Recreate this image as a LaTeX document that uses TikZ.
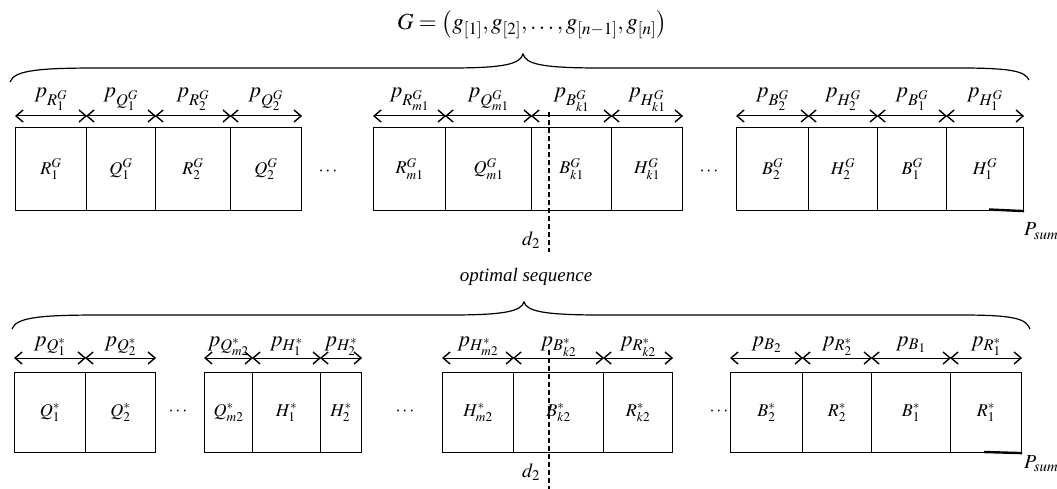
\documentclass[tikz,border=0pt]{standalone}
\usepackage{mathptmx}
\usepackage{fontspec}
\setmainfont{Liberation Serif}
\usetikzlibrary{arrows.meta}
\begin{document}
\begin{tikzpicture}[x=1pt,y=-1pt,
  box/.style={draw, line width=1.1pt, rectangle, inner sep=0pt, anchor=north west, font=\fontsize{18}{20}\selectfont},
  barb/.tip={Straight Barb[length=7pt,width=12pt,line width=1.4pt]},
  dim/.style={barb-barb, line width=1pt},
  plab/.style={anchor=base, font=\fontsize{22}{24}\selectfont, inner sep=0pt},
  brace/.style={line width=1.2pt},
  cut/.style={dashed, dash pattern=on 5pt off 3pt, line width=1.6pt},
  dots/.style={font=\fontsize{18}{20}\selectfont, inner sep=0pt},
  lab/.style={font=\fontsize{20}{22}\selectfont, inner sep=0pt, anchor=base},
  thick seg/.style={line width=2.4pt}]
\useasboundingbox (0,0) rectangle (1057,489);

% ---------- top sequence ----------
\node[lab, font=\fontsize{23}{25}\selectfont] (gtitle) at (532,30) {$G=\left(g_{[1]},g_{[2]},\ldots,g_{[n-1]},g_{[n]}\right)$};
\draw[brace] (10,82) .. controls (14,70) and (40,68) .. (100,68) -- (450,68)
  .. controls (505,68) and (520,64) .. (523,54)
  .. controls (526,64) and (541,68) .. (600,68) -- (960,68)
  .. controls (1015,68) and (1025,72) .. (1029,80);

\foreach \n/\a/\b/\l/\p in {
  tr1/15/86/{R_1^G}/{R_1^G},
  tq1/86/155/{Q_1^G}/{Q_1^G},
  tr2/155/230/{R_2^G}/{R_2^G},
  tq2/230/301/{Q_2^G}/{Q_2^G},
  trm/373/445/{R_{m1}^G}/{R_{m1}^G},
  tqm/445/531/{Q_{m1}^G}/{Q_{m1}^G},
  tbk/531/611/{B_{k1}^G}/{B_{k1}^G},
  thk/611/682/{H_{k1}^G}/{H_{k1}^G},
  tb2/736/808/{B_2^G}/{B_2^G},
  th2/808/877/{H_2^G}/{H_2^G},
  tb1/877/946/{B_1^G}/{B_1^G},
  th1/946/1023/{H_1^G}/{H_1^G}}{
  \pgfmathsetmacro\w{\b-\a}
  \node[box, minimum width=\w pt, minimum height=83pt] (\n) at (\a,127) {$\l$};
  \draw[dim] ([yshift=11pt]\n.north west) -- ([yshift=11pt]\n.north east);
  \node[plab] (p\n) at ([yshift=29pt]\n.north) {$p_{\p}$};
}
\node[dots] (td1) at (328,172) {$\cdots$};
\node[dots] (td2) at (709,172) {$\cdots$};
\coordinate (tcuta) at (549,112);
\coordinate (tcutb) at (549,252);
\draw[cut] (tcuta) -- (tcutb);
\node[lab] (td) at (531,245) {$d_2$};
\draw[thick seg] (989,209.5) -- (th1.south east);
\node[lab, anchor=base west] (tps) at (1024,236) {$P_{sum}$};

% ---------- optimal sequence ----------
\node[lab] (otitle) at (526,281) {\fontsize{19}{22}\selectfont\textit{optimal sequence}};
\draw[brace] (12,329) .. controls (16,317) and (42,315) .. (102,315) -- (451,315)
  .. controls (506,315) and (521,311) .. (524,302)
  .. controls (527,311) and (542,315) .. (601,315) -- (961,315)
  .. controls (1016,315) and (1026,319) .. (1030,329);

\foreach \n/\a/\b/\l/\p in {
  bq1/14/85/{Q_1^*}/{Q_1^*},
  bq2/85/155/{Q_2^*}/{Q_2^*},
  bqm/204/252/{Q_{m2}^*}/{Q_{m2}^*},
  bh1/252/320/{H_1^*}/{H_1^*},
  bh2/320/361/{H_2^*}/{H_2^*},
  bhm/442/513/{H_{m2}^*}/{H_{m2}^*},
  bbk/513/603/{B_{k2}^*}/{B_{k2}^*},
  brk/603/672/{R_{k2}^*}/{R_{k2}^*},
  bb2/730/802/{B_2^*}/{B_2},
  br2/802/871/{R_2^*}/{R_2^*},
  bb1/871/950/{B_1^*}/{B_1},
  br1/950/1021/{R_1^*}/{R_1^*}}{
  \pgfmathsetmacro\w{\b-\a}
  \node[box, minimum width=\w pt, minimum height=80pt] (\n) at (\a,372) {$\l$};
  \draw[dim] ([yshift=14pt]\n.north west) -- ([yshift=14pt]\n.north east);
  \node[plab] (p\n) at ([yshift=26pt]\n.north) {$p_{\p}$};
}
\node[dots] (bd1) at (178,412) {$\cdots$};
\node[dots] (bd2) at (405,412) {$\cdots$};
\node[dots] (bd3) at (719,412) {$\cdots$};
\coordinate (bcuta) at (549,350);
\coordinate (bcutb) at (549,489);
\draw[cut] (bcuta) -- (bcutb);
\node[lab] (bd) at (531,477) {$d_2$};
\draw[thick seg] (984,452) -- (br1.south east);
\node[lab, anchor=base west] (bps) at (1024,468) {$P_{sum}$};
\end{tikzpicture}
\end{document}
